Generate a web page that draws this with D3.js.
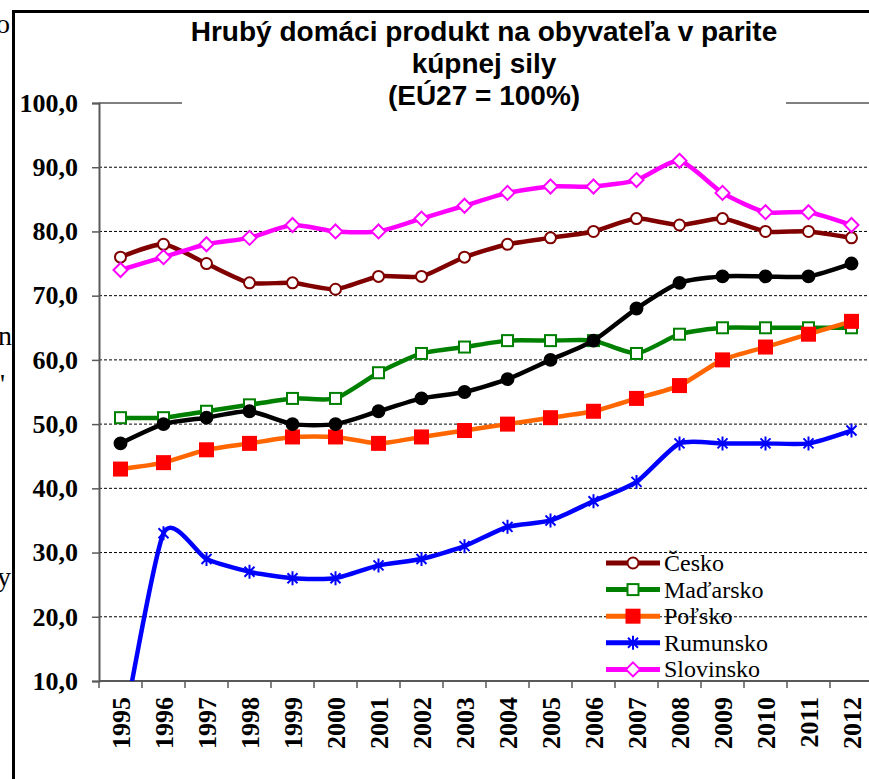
<!DOCTYPE html>
<html>
<head>
<meta charset="utf-8">
<script src="https://cdn.jsdelivr.net/npm/d3@7"></script>
<style>
  body { margin: 0; background: #fff; }
  svg { display: block; }
</style>
</head>
<body>
<div id="chart"></div>
<script>
// data (EU27 = 100)
const years = ["1995","1996","1997","1998","1999","2000","2001","2002","2003",
               "2004","2005","2006","2007","2008","2009","2010","2011","2012"];
const cesko     = [76,78,75,72,72,71,73,73,76,78,79,80,82,81,82,80,80,79];
const madarsko  = [51,51,52,53,54,54,58,61,62,63,63,63,61,64,65,65,65,65];
const polsko    = [43,44,46,47,48,48,47,48,49,50,51,52,54,56,60,62,64,66];
const rumunsko  = [0,33,29,27,26,26,28,29,31,34,35,38,41,47,47,47,47,49];
const slovinsko = [74,76,78,79,81,80,80,82,84,86,87,87,88,91,86,83,83,81];
const slovensko = [47,50,51,52,50,50,52,54,55,57,60,63,68,72,73,73,73,75];
const yTicks = [10,20,30,40,50,60,70,80,90,100];
const titleLines = ["Hrubý domáci produkt na obyvateľa v parite", "kúpnej sily", "(EÚ27 = 100%)"];

const series = [
  {name: "Česko",     values: cesko,     line: "#800000", marker: "circle",  fill: "#fff",    stroke: "#800000"},
  {name: "Maďarsko",  values: madarsko,  line: "#008000", marker: "square",  fill: "#fff",    stroke: "#008000"},
  {name: "Poľsko",    values: polsko,    line: "#ff6600", marker: "square",  fill: "#ff0000", stroke: "#ff0000"},
  {name: "Rumunsko",  values: rumunsko,  line: "#0000ff", marker: "star",    fill: "none",    stroke: "#0000ff"},
  {name: "Slovinsko", values: slovinsko, line: "#ff00ff", marker: "diamond", fill: "#fff",    stroke: "#ff00ff"},
  {name: null,        values: slovensko, line: "#000000", marker: "circle",  fill: "#000",    stroke: "#000"}
];

const W = 869, H = 779;
const plotLeft = 99, plotTop = 103, plotBottom = 681, plotRight = 873;

const svg = d3.select("#chart").append("svg")
  .attr("width", W).attr("height", H);

svg.append("rect").attr("width", W).attr("height", H).attr("fill", "#fff");

const x = d3.scaleBand().domain(years).range([plotLeft, plotRight]);
const y = d3.scaleLinear().domain([10, 100]).range([plotBottom, plotTop]);
const cx = d => x(d) + x.bandwidth() / 2;

// dashed gridlines
svg.append("g")
  .selectAll("line")
  .data(yTicks.filter(v => v > 10 && v < 100))
  .enter().append("line")
  .attr("x1", plotLeft).attr("x2", W)
  .attr("y1", d => y(d)).attr("y2", d => y(d))
  .attr("stroke", "#000").attr("stroke-width", 1)
  .attr("stroke-dasharray", "3,2");

// top border at 100
svg.append("line")
  .attr("x1", plotLeft).attr("x2", W)
  .attr("y1", y(100)).attr("y2", y(100))
  .attr("stroke", "#808080").attr("stroke-width", 2);

// y axis
const yAxis = svg.append("g")
  .attr("transform", `translate(${plotLeft},0)`)
  .call(d3.axisLeft(y).tickValues(yTicks).tickSize(7).tickPadding(14)
        .tickFormat(d => d.toFixed(1).replace(".", ",")));
yAxis.select(".domain").attr("stroke", "#595959").attr("stroke-width", 2);
yAxis.selectAll(".tick line").attr("stroke", "#595959").attr("stroke-width", 1.5);
yAxis.selectAll("text")
  .attr("fill", "#000")
  .style("font-family", "'Liberation Serif', 'Times New Roman', serif")
  .style("font-weight", "bold").style("font-size", "26px");

// x axis
svg.append("line")
  .attr("x1", plotLeft).attr("x2", W).attr("y1", plotBottom).attr("y2", plotBottom)
  .attr("stroke", "#595959").attr("stroke-width", 2);
svg.append("g")
  .selectAll("line")
  .data(years)
  .enter().append("line")
  .attr("x1", d => x(d)).attr("x2", d => x(d))
  .attr("y1", plotBottom).attr("y2", plotBottom + 7)
  .attr("stroke", "#595959").attr("stroke-width", 1.5);
svg.append("g")
  .selectAll("text")
  .data(years)
  .enter().append("text")
  .attr("transform", d => `translate(${cx(d) + 9},${plotBottom + 16}) rotate(-90)`)
  .attr("text-anchor", "end")
  .style("font-family", "'Liberation Serif', 'Times New Roman', serif")
  .style("font-weight", "bold").style("font-size", "26px")
  .text(d => d);

// clip for plot area
svg.append("clipPath").attr("id", "plot")
  .append("rect").attr("x", plotLeft).attr("y", 0).attr("width", W - plotLeft).attr("height", plotBottom);

const line = d3.line()
  .x((d, i) => cx(years[i]))
  .y(d => y(d))
  .curve(d3.curveCardinal.tension(0.35));

function marker(g, type, fill, stroke, px, py, big) {
  const s = big ? 1.08 : 1;
  if (type === "circle") {
    g.append("circle").attr("cx", px).attr("cy", py).attr("r", 5.5 * s)
      .attr("fill", fill).attr("stroke", stroke).attr("stroke-width", 2);
  } else if (type === "square") {
    const h = fill === "#fff" ? 5.5 : 6.5;
    g.append("rect").attr("x", px - h).attr("y", py - h).attr("width", 2 * h).attr("height", 2 * h)
      .attr("fill", fill).attr("stroke", stroke).attr("stroke-width", 2);
  } else if (type === "diamond") {
    g.append("path").attr("d", `M${px},${py - 7}L${px + 7},${py}L${px},${py + 7}L${px - 7},${py}Z`)
      .attr("fill", fill).attr("stroke", stroke).attr("stroke-width", 2);
  } else if (type === "star") {
    g.append("path")
      .attr("d", `M${px - 5},${py - 5}L${px + 5},${py + 5}M${px - 5},${py + 5}L${px + 5},${py - 5}M${px},${py - 7}L${px},${py + 7}`)
      .attr("fill", "none").attr("stroke", stroke).attr("stroke-width", 2);
  }
}

const plot = svg.append("g").attr("clip-path", "url(#plot)");
series.forEach(s => {
  const g = plot.append("g");
  g.append("path").datum(s.values)
    .attr("d", line)
    .attr("fill", "none").attr("stroke", s.line)
    .attr("stroke-width", 4.5).attr("stroke-linejoin", "round");
  s.values.forEach((v, i) => {
    if (v >= 10) marker(g, s.marker, s.fill, s.stroke, cx(years[i]), y(v), s.fill === "#000");
  });
});

// legend
const legend = svg.append("g");
series.filter(s => s.name).forEach((s, i) => {
  const ly = 563 + i * 26.6;
  legend.append("line").attr("x1", 606).attr("x2", 660).attr("y1", ly).attr("y2", ly)
    .attr("stroke", s.line).attr("stroke-width", 5);
  marker(legend, s.marker, s.fill, s.stroke, 633, ly, false);
  legend.append("text").attr("x", 664).attr("y", ly + 8)
    .style("font-family", "'Liberation Serif', 'Times New Roman', serif")
    .style("font-size", "24px")
    .text(s.name);
});

// title box (white background hides the top border)
svg.append("rect").attr("x", 182).attr("y", 14).attr("width", 604).attr("height", 96).attr("fill", "#fff");
svg.append("g")
  .selectAll("text")
  .data(titleLines)
  .enter().append("text")
  .attr("x", 484).attr("y", (d, i) => 41 + i * 32)
  .attr("text-anchor", "middle")
  .style("font-family", "'Liberation Sans', Arial, sans-serif")
  .style("font-weight", "bold").style("font-size", "28px")
  .text(d => d);

// frame of the surrounding page
svg.append("line").attr("x1", 13.5).attr("x2", 13.5).attr("y1", 10).attr("y2", H)
  .attr("stroke", "#000").attr("stroke-width", 3);
svg.append("line").attr("x1", 12).attr("x2", W).attr("y1", 11.5).attr("y2", 11.5)
  .attr("stroke", "#000").attr("stroke-width", 3);

// cut-off letters of the page text on the left
const frag = svg.append("g")
  .style("font-family", "'Liberation Serif', 'Times New Roman', serif")
  .style("font-size", "28px");
frag.append("text").attr("x", 10).attr("y", 33).attr("text-anchor", "end").text("o");
frag.append("text").attr("x", 12).attr("y", 345).attr("text-anchor", "end").text("n");
frag.append("text").attr("x", 5).attr("y", 393).attr("text-anchor", "end").text("'");
frag.append("text").attr("x", 11).attr("y", 586).attr("text-anchor", "end").text("y");
</script>
</body>
</html>
